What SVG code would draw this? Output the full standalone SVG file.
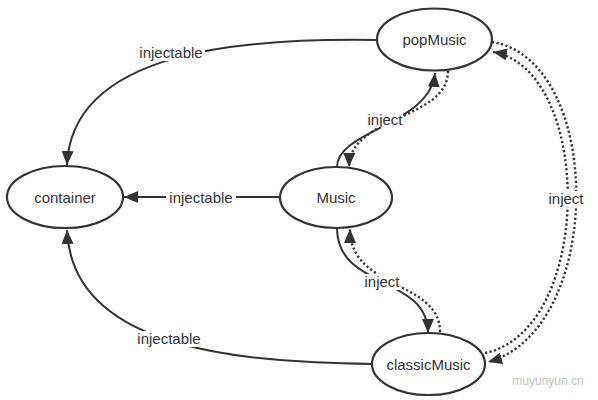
<svg xmlns="http://www.w3.org/2000/svg" width="598" height="400" viewBox="0 0 598 400">
<style>
.node ellipse{fill:#fff;stroke:#333;stroke-width:2.2}
.node text,.lbl text{font-family:"Liberation Sans",Arial,sans-serif;font-size:15px;fill:#333;text-anchor:middle}
.solid{fill:none;stroke:#333;stroke-width:2}
.dot{fill:none;stroke:#333;stroke-width:2.4;stroke-dasharray:2.2 2.4}
.lbl rect{fill:#fff}
</style>
<defs>
<marker id="arr" markerUnits="userSpaceOnUse" markerWidth="15" markerHeight="12" refX="14" refY="6" orient="auto">
<path d="M0,0 L14,6 L0,12 z" fill="#333"/>
</marker>
</defs>
<rect width="598" height="400" fill="#fff"/>
<g id="connectors">
<path class="solid" d="M377,40 C250,38 72,48 67,165" marker-end="url(#arr)"/>
<path class="solid" d="M280,197 L124,197" marker-end="url(#arr)"/>
<path class="solid" d="M372,364 C240,362 72,350 67,230" marker-end="url(#arr)"/>
<path class="solid" d="M337,167 C337,130 430,125 435,73" marker-end="url(#arr)"/>
<path class="dot" d="M448,71 C448,120 350,115 349,167" marker-end="url(#arr)"/>
<path class="solid" d="M337,228 C337,290 428,275 428,333" marker-end="url(#arr)"/>
<path class="dot" d="M440,332 C440,280 350,290 350,229" marker-end="url(#arr)"/>
<path class="dot" d="M492,42 C605,60 605,330 488,362" marker-end="url(#arr)"/>
<path class="dot" d="M485,353 C594,330 594,70 493,52" marker-end="url(#arr)"/>
<g class="lbl">
<rect x="137" y="45" width="68" height="16"/><text x="171" y="58">injectable</text>
<rect x="166" y="190" width="70" height="16"/><text x="201" y="203">injectable</text>
<rect x="135" y="331" width="68" height="16"/><text x="169" y="344">injectable</text>
<rect x="367" y="112" width="36" height="16"/><text x="385" y="125">inject</text>
<rect x="364" y="274" width="36" height="16"/><text x="382" y="287">inject</text>
<rect x="548" y="191" width="36" height="16"/><text x="566" y="204">inject</text>
</g>
</g>
<g id="popMusic" class="node"><ellipse cx="434.5" cy="39.5" rx="57.5" ry="31"/><text x="434.5" y="45">popMusic</text></g>
<g id="Music" class="node"><ellipse cx="336" cy="197.5" rx="56" ry="30.5"/><text x="336" y="203">Music</text></g>
<g id="container" class="node"><ellipse cx="65" cy="197" rx="58" ry="31"/><text x="65" y="202.5">container</text></g>
<g id="classicMusic" class="node"><ellipse cx="428.5" cy="364" rx="56.5" ry="31"/><text x="428.5" y="369.5">classicMusic</text></g>
<text x="548" y="385" font-family="Liberation Sans,Arial,sans-serif" font-size="12" fill="#c4c4c4" text-anchor="middle">muyunyun.cn</text>
</svg>
